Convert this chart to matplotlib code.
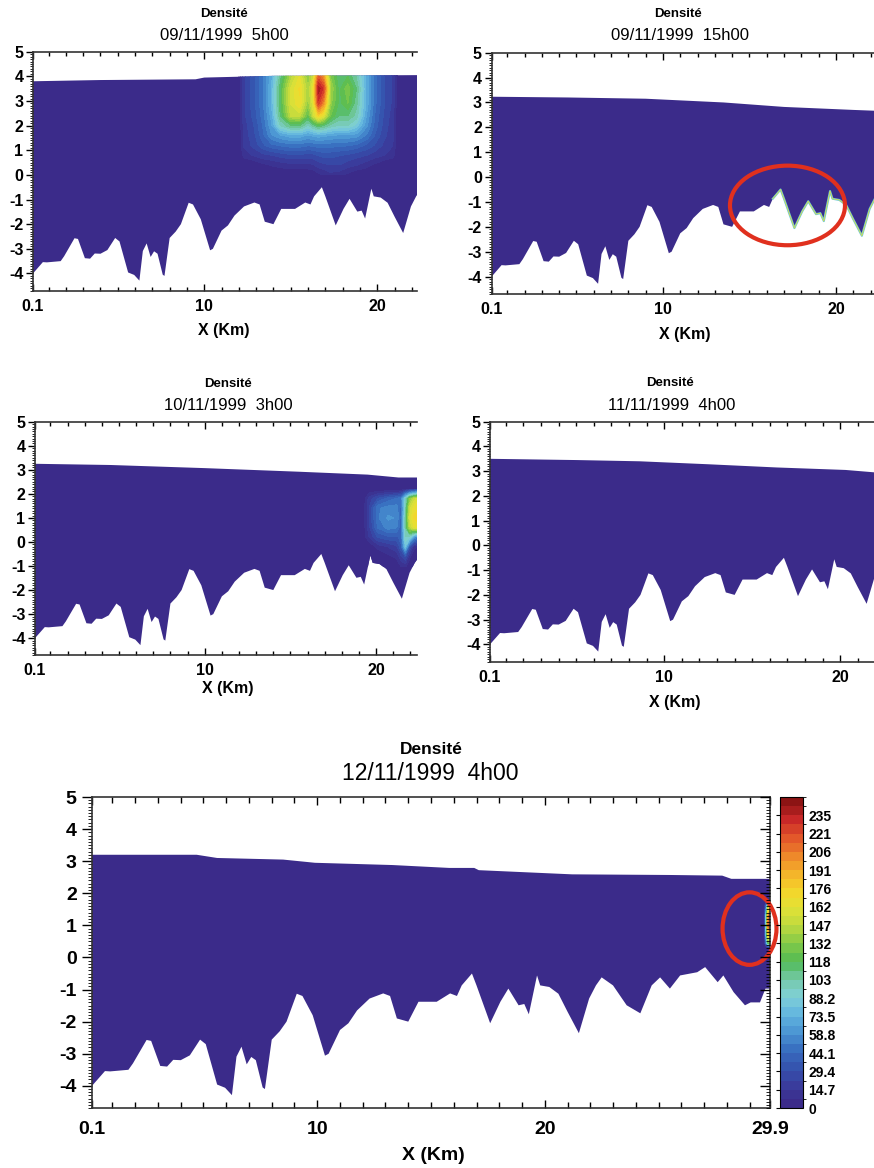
import numpy as np
import matplotlib
matplotlib.use("Agg")
import matplotlib.pyplot as plt
from matplotlib.colors import LinearSegmentedColormap, ListedColormap, BoundaryNorm
from matplotlib.patches import Ellipse, Polygon
from matplotlib.ticker import MultipleLocator

plt.rcParams['font.family'] = ['Liberation Sans', 'DejaVu Sans']

W, H = 874, 1168

# fond (bathymetrie), le meme pour toutes les dates
bed_x = [0.1, 0.67, 0.9, 1.7, 1.9, 2.5, 2.7, 3.1, 3.4, 3.67, 4.0, 4.4, 4.85, 5.1,
         5.6, 5.95, 6.25, 6.45, 6.67, 6.9, 7.1, 7.3, 7.6, 7.7, 8.0, 8.35, 8.65,
         9.1, 9.35, 9.8, 10.34, 10.5, 11.0, 11.37, 11.75, 12.3, 12.9, 13.2, 13.5,
         14.0, 14.45, 15.25, 15.84, 16.14, 16.35, 16.8, 17.0, 17.6, 18.05, 18.4,
         18.85, 19.1, 19.3, 19.66, 19.8, 20.2, 20.6, 21.0, 21.5, 21.95, 22.25,
         22.5, 23.0, 23.6, 24.2, 24.7, 25.07, 25.5, 25.95, 26.7, 27.05, 27.6,
         27.85, 28.3, 28.8, 29.05, 29.46, 29.7, 29.9]
bed_z = [-4.0, -3.54, -3.55, -3.5, -3.3, -2.57, -2.6, -3.38, -3.4, -3.19, -3.2,
         -3.05, -2.56, -2.7, -3.96, -4.06, -4.29, -3.09, -2.78, -3.33, -3.1, -3.2,
         -4.05, -4.1, -2.56, -2.3, -2.0, -1.13, -1.2, -1.8, -3.06, -3.0, -2.26,
         -2.05, -1.65, -1.28, -1.12, -1.2, -1.9, -2.0, -1.38, -1.38, -1.12, -1.2,
         -0.87, -0.5, -0.87, -2.05, -1.38, -0.97, -1.49, -1.45, -1.77, -0.56,
         -0.87, -0.92, -1.13, -1.69, -2.36, -1.28, -0.87, -0.62, -0.87, -1.49,
         -1.74, -0.87, -0.62, -0.97, -0.56, -0.46, -0.3, -0.77, -0.56, -1.08,
         -1.49, -1.4, -1.4, -0.97, -0.97]

# surface libre a chaque date
surf1_x = [0.1, 4.0, 9.5, 10.0, 14.0, 22.5]
surf1_z = [3.8, 3.85, 3.88, 3.95, 4.02, 4.05]
surf2_x = [0.1, 4.5, 9.0, 13.5, 17.0, 21.0, 22.5]
surf2_z = [3.23, 3.2, 3.15, 3.0, 2.82, 2.7, 2.66]
surf3_x = [0.1, 4.5, 10.0, 15.5, 19.5, 21.3, 22.5]
surf3_z = [3.25, 3.2, 3.07, 2.92, 2.8, 2.68, 2.68]
surf4_x = [0.1, 5.0, 8.6, 12.5, 16.4, 20.3, 22.5]
surf4_z = [3.5, 3.45, 3.4, 3.28, 3.15, 3.05, 2.92]
surf5_x = [0.1, 4.7, 5.6, 8.5, 9.9, 13.3, 15.8, 16.9, 17.1, 21.2, 25.5, 27.8, 28.2, 29.9]
surf5_z = [3.2, 3.2, 3.1, 3.05, 2.95, 2.88, 2.79, 2.79, 2.72, 2.59, 2.57, 2.55, 2.45, 2.45]

# panache 09/11/1999 5h00
plume1_x = [12.0, 12.3, 12.9, 13.4, 13.9, 14.4, 15.0, 15.5, 16.0, 16.3, 16.6,
            16.9, 17.3, 17.8, 18.3, 18.8, 19.4, 19.9, 20.4, 20.9, 21.2]
plume1_z = [4.1, 3.5, 2.9, 2.4, 2.0, 1.6, 1.2, 0.8, 0.4, 0.0]
plume1_d = [
    [0, 20, 35, 50, 70, 105, 140, 160, 130, 150, 210, 190, 130, 110, 115, 100, 70, 45, 30, 20, 0],
    [0, 20, 35, 50, 75, 115, 155, 170, 140, 165, 240, 225, 140, 115, 130, 110, 70, 45, 30, 20, 0],
    [0, 20, 35, 50, 75, 115, 155, 168, 135, 160, 225, 200, 135, 115, 125, 105, 70, 45, 30, 20, 0],
    [0, 20, 33, 48, 70, 110, 148, 150, 120, 150, 175, 160, 125, 110, 110, 100, 65, 42, 28, 18, 0],
    [0, 18, 30, 45, 65, 95, 110, 110, 95, 105, 115, 110, 100, 95, 95, 85, 60, 40, 26, 17, 0],
    [0, 17, 28, 42, 58, 65, 70, 70, 65, 68, 70, 68, 66, 64, 64, 62, 50, 35, 24, 16, 0],
    [0, 16, 25, 35, 42, 45, 48, 48, 45, 46, 48, 48, 47, 46, 45, 42, 35, 28, 20, 15, 0],
    [0, 10, 16, 20, 22, 25, 28, 28, 26, 27, 30, 32, 32, 30, 28, 25, 22, 18, 15, 10, 0],
    [0, 0, 0, 5, 8, 10, 12, 12, 12, 14, 18, 20, 22, 22, 18, 15, 10, 5, 0, 0, 0],
    [0, 0, 0, 0, 0, 0, 0, 0, 0, 0, 5, 8, 12, 10, 5, 0, 0, 0, 0, 0, 0],
]

# panache 10/11/1999 3h00
plume3_x = [19.2, 19.6, 20.1, 20.7, 21.2, 21.45, 21.7, 21.95, 22.2, 22.5]
plume3_z = [2.2, 1.8, 1.4, 1.0, 0.6, 0.2, -0.2, -0.6, -1.0]
plume3_d = [
    [0, 0, 0, 0, 0, 0, 5, 10, 15, 20],
    [0, 18, 30, 40, 45, 50, 90, 130, 150, 160],
    [0, 22, 50, 55, 55, 40, 95, 150, 165, 170],
    [0, 22, 50, 60, 58, 40, 100, 155, 170, 175],
    [0, 20, 45, 55, 52, 38, 100, 145, 160, 165],
    [0, 15, 30, 35, 35, 40, 95, 90, 60, 45],
    [0, 0, 10, 15, 20, 35, 80, 30, 10, 5],
    [0, 0, 0, 5, 10, 20, 30, 10, 0, 0],
    [0, 0, 0, 0, 0, 8, 10, 0, 0, 0],
]

# bande a l'embouchure 12/11/1999 4h00
plume5_x = [29.65, 29.75, 29.82, 29.9]
plume5_z = [1.8, 1.6, 1.3, 1.0, 0.7, 0.45, 0.3]
plume5_d = [
    [0, 0, 0, 0],
    [0, 60, 140, 120],
    [0, 110, 200, 225],
    [0, 120, 215, 210],
    [0, 100, 180, 170],
    [0, 60, 120, 110],
    [0, 0, 0, 0],
]

# couche dense sur le fond, 09/11/1999 15h00
layer2_start, layer2_end = 16.2, 22.5

cbar_vals = np.arange(17) * 14.7
cbar_labels = ['0', '14.7', '29.4', '44.1', '58.8', '73.5', '88.2', '103', '118',
               '132', '147', '162', '176', '191', '206', '221', '235']

anchor_colors = ['#3b2b8a', '#3a3c9c', '#3553ae', '#386fc0', '#4a93d2', '#62b6df',
                 '#80d0d8', '#74c9a6', '#4fba55', '#86ca47', '#bcd93f', '#e2e236',
                 '#f5d52a', '#f4b02a', '#ee862a', '#e2552a', '#c82828', '#8c1414']
levels = np.linspace(0, 249.9, 35)
cmap = ListedColormap(LinearSegmentedColormap.from_list('dens', anchor_colors)(np.linspace(0, 1, 34)))
norm = BoundaryNorm(levels, 34)
water_color = anchor_colors[0]

fig = plt.figure(figsize=(W / 100, H / 100), dpi=100)


def ptext(px, py, s, **kw):
    fig.text(px / W, 1 - py / H, s, ha='center', va='center', **kw)


def draw_panel(box, xmax, surf_x, surf_z, plume=None, big=False):
    left, top, right, bottom = box
    ax = fig.add_axes([left / W, 1 - bottom / H, (right - left) / W, (bottom - top) / H])
    bx = np.array(bed_x)
    bz = np.array(bed_z)
    keep = bx <= surf_x[-1]
    verts = list(zip(surf_x, surf_z)) + list(zip(bx[keep][::-1], bz[keep][::-1]))
    water = Polygon(verts, closed=True, fc=water_color, ec='none', zorder=1)
    ax.add_patch(water)
    if plume is not None:
        cs = ax.contourf(plume[0], plume[1], plume[2], levels=levels, cmap=cmap,
                         norm=norm, zorder=2, antialiased=False)
        cs.set_clip_path(water)

    ax.set_xlim(0.1, xmax)
    ax.set_ylim(-4.7, 5)
    xt = [0.1, 10, 20] + ([29.9] if big else [])
    ax.set_xticks(xt, [('%g' % v) for v in xt])
    ax.set_yticks(range(-4, 6), [str(v) for v in range(-4, 6)])
    ax.xaxis.set_minor_locator(MultipleLocator(1))
    ax.yaxis.set_minor_locator(MultipleLocator(0.1))
    fs_x = 14 if big else 11.5
    fs_y = 14 if big else 11.5
    ax.tick_params(axis='x', which='both', direction='in', top=True, labelsize=fs_x,
                   pad=9 if big else 6, width=1)
    ax.tick_params(axis='x', which='major', length=6 if big else 5)
    ax.tick_params(axis='x', which='minor', length=4 if big else 3)
    ax.tick_params(axis='y', which='major', direction='out', length=7 if big else 5,
                   width=1, labelsize=fs_y, pad=4 if big else 2)
    ax.tick_params(axis='y', which='minor', direction='out', length=3 if big else 2.5, width=0.6)
    plt.setp(ax.get_xticklabels() + ax.get_yticklabels(), fontweight='bold')
    for sp in ax.spines.values():
        sp.set_linewidth(1.2)
        sp.set_color('#333333')
    if big:
        ax2 = ax.twinx()
        ax2.set_ylim(-4.7, 5)
        ax2.set_yticks(range(-4, 6), [''] * 10)
        ax2.yaxis.set_minor_locator(MultipleLocator(0.1))
        ax2.tick_params(axis='y', which='major', direction='in', length=7, width=1)
        ax2.tick_params(axis='y', which='minor', direction='in', length=3, width=0.6)
        for sp in ax2.spines.values():
            sp.set_visible(False)
    else:
        ax.spines['right'].set_visible(False)
    return ax


# 09/11/1999 5h00
ax1 = draw_panel((33, 51.7, 417, 290.7), 22.3, surf1_x, surf1_z,
                 plume=(plume1_x, plume1_z, plume1_d))
ptext(224, 14, 'Densité', fontsize=9.5, fontweight='bold')
ptext(224, 35, '09/11/1999  5h00', fontsize=12)
ptext(224, 330, 'X (Km)', fontsize=11.5, fontweight='bold')

# 09/11/1999 15h00
ax2 = draw_panel((491.7, 52.7, 875.7, 294), 22.3, surf2_x, surf2_z)
bx = np.array(bed_x)
bz = np.array(bed_z)
sel = (bx >= layer2_start) & (bx <= layer2_end)
ax2.plot(bx[sel], bz[sel], color='#6cc8d6', lw=1.5, zorder=3)
ax2.plot(bx[sel], bz[sel], color='#e6df3a', lw=0.5, zorder=3)
ax2.add_patch(Ellipse((17.2, -1.14), 6.65, 3.2, fill=False, ec='#e0301e', lw=3,
                      zorder=5, clip_on=False))
ptext(678, 14, 'Densité', fontsize=9.5, fontweight='bold')
ptext(680, 36, '09/11/1999  15h00', fontsize=12)
ptext(685, 334, 'X (Km)', fontsize=11.5, fontweight='bold')

# 10/11/1999 3h00
ax3 = draw_panel((35, 421.7, 417.3, 655), 22.4, surf3_x, surf3_z,
                 plume=(plume3_x, plume3_z, plume3_d))
ptext(228, 384, 'Densité', fontsize=9.5, fontweight='bold')
ptext(228, 405, '10/11/1999  3h00', fontsize=12)
ptext(228, 688, 'X (Km)', fontsize=11.5, fontweight='bold')

# 11/11/1999 4h00
ax4 = draw_panel((490, 421.7, 880.7, 661.7), 22.3, surf4_x, surf4_z)
ptext(670, 383, 'Densité', fontsize=9.5, fontweight='bold')
ptext(672, 405, '11/11/1999  4h00', fontsize=12)
ptext(675, 702, 'X (Km)', fontsize=11.5, fontweight='bold')

# 12/11/1999 4h00
ax5 = draw_panel((92, 797, 770, 1108.3), 29.9, surf5_x, surf5_z,
                 plume=(plume5_x, plume5_z, plume5_d), big=True)
ax5.add_patch(Ellipse((29.0, 0.9), 2.37, 2.26, fill=False, ec='#e0301e', lw=3,
                      zorder=5, clip_on=False))
ptext(431, 750, 'Densité', fontsize=12.5, fontweight='bold')
ptext(430, 773, '12/11/1999  4h00', fontsize=16.5)
ptext(433, 1155, 'X (Km)', fontsize=14, fontweight='bold')

cax = fig.add_axes([780 / W, 1 - 1108 / H, 23 / W, 311 / H])
sm = matplotlib.cm.ScalarMappable(norm=norm, cmap=cmap)
cb = fig.colorbar(sm, cax=cax, ticks=cbar_vals)
cb.ax.set_yticklabels(cbar_labels, fontweight='bold', fontsize=10)
cax.tick_params(left=True, right=False, labelleft=False, labelright=True,
                direction='out', length=3, width=0.8, pad=1)
cb.outline.set_linewidth(0.8)

fig.savefig('out.png', dpi=100)
